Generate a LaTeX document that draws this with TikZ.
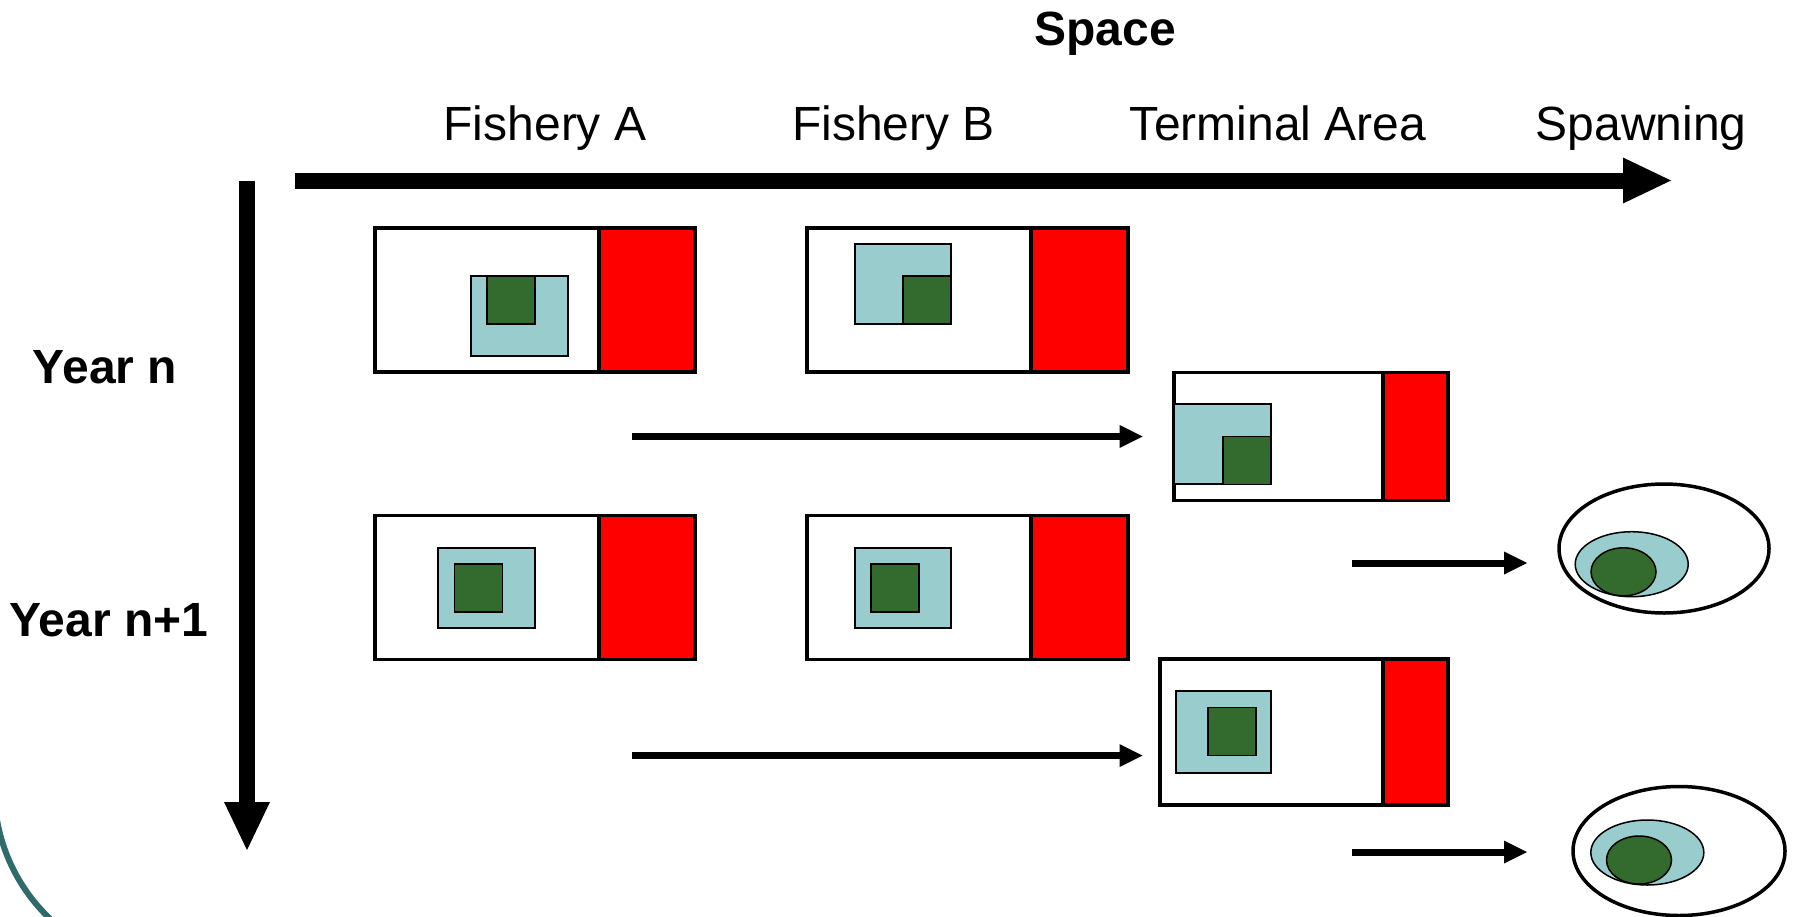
\documentclass[tikz,border=0pt]{standalone}
\usepackage{fontspec}
\setmainfont{Liberation Sans}
\usetikzlibrary{arrows.meta, positioning, shapes.geometric}
\definecolor{stockblue}{HTML}{99CCCC}
\definecolor{fishgreen}{HTML}{336B2F}
\definecolor{slideteal}{HTML}{2F6B6B}

\tikzset{
  plain text/.style={font=\fontsize{48}{57}\selectfont, anchor=base},
  bold text/.style={font=\fontsize{48}{57}\selectfont\bfseries, anchor=base},
  area box/.style={draw, line width=3.2pt, minimum height=144pt},
  catch box/.style={draw, fill=red, line width=3.2pt, minimum height=144pt},
  stock box/.style={draw, fill=stockblue, line width=1.5pt, anchor=north west},
  fish box/.style={draw, fill=fishgreen, line width=1.5pt, anchor=north west, minimum width=48pt, minimum height=48pt},
  pool/.style={ellipse, draw, line width=3.5pt},
  stock pool/.style={ellipse, draw, fill=stockblue, line width=1.5pt, minimum width=113pt, minimum height=65pt},
  fish pool/.style={ellipse, draw, fill=fishgreen, line width=1.5pt, minimum width=65pt, minimum height=48pt},
  axis arrow/.style={line width=16pt, -{Triangle[length=48pt, width=46pt, line width=0pt]}},
  move arrow/.style={line width=7pt, -{Triangle[length=23pt, width=23pt, line width=0pt]}}
}

\begin{document}
\begin{tikzpicture}[x=1pt, y=-1pt, every node/.style={inner sep=0pt, outer sep=0pt}]
  \useasboundingbox (0,0) rectangle (1795,916);

  \draw[slideteal, line width=6pt] (172.4,789.5) ++(185:178) arc[start angle=185, end angle=110, radius=178];

  \node[bold text](space) at (1105,45) {Space};
  \node[plain text](fisha) at (545,140) {Fishery A};
  \node[plain text](fishb) at (893.5,140) {Fishery B};
  \node[plain text](terminal) at (1278,140) {Terminal Area};
  \node[plain text](spawning) at (1641,140) {Spawning};
  \node[bold text](yearn) at (105,383.3) {Year n};
  \node[bold text](yearnext) at (109,636.7) {Year n+1};

  \coordinate (spacestart) at (295,180.5);
  \coordinate (spaceend) at (1671,180.5);
  \draw[axis arrow] (spacestart) -- (spaceend);
  \coordinate (timestart) at (247,180.5);
  \coordinate (timeend) at (247,850);
  \draw[axis arrow] (timestart) -- (timeend);

  % year n
  \node[area box, minimum width=224pt](areaa1) at (487,300) {};
  \node[catch box, minimum width=96pt, right=0pt of areaa1](catcha1) {};
  \node[stock box, minimum width=97pt, minimum height=80pt](stocka1) at (471,276) {};
  \node[fish box](fisha1) at (487,276) {};

  \node[area box, minimum width=224pt](areab1) at (919,300) {};
  \node[catch box, minimum width=97pt, right=0pt of areab1](catchb1) {};
  \node[stock box, minimum width=96pt, minimum height=80pt](stockb1) at (855,244) {};
  \node[fish box](fishb1) at (903,276) {};

  \node[area box, minimum width=209pt, minimum height=128pt](areat1) at (1278.5,436.5) {};
  \node[catch box, minimum width=65pt, minimum height=128pt, right=0pt of areat1](catcht1) {};
  \node[stock box, minimum width=97pt, minimum height=80pt](stockt1) at (1174,404) {};
  \node[fish box](fisht1) at (1223,436.5) {};

  % year n+1
  \node[area box, minimum width=224pt](areaa2) at (487,587.5) {};
  \node[catch box, minimum width=96pt, right=0pt of areaa2](catcha2) {};
  \node[stock box, minimum width=97pt, minimum height=80pt](stocka2) at (438,548) {};
  \node[fish box](fisha2) at (454.5,564) {};

  \node[area box, minimum width=224pt](areab2) at (919,587.5) {};
  \node[catch box, minimum width=97pt, right=0pt of areab2](catchb2) {};
  \node[stock box, minimum width=96pt, minimum height=80pt](stockb2) at (855,548) {};
  \node[fish box](fishb2) at (871,564) {};

  \node[area box, minimum width=223pt, minimum height=146pt](areat2) at (1271.5,732) {};
  \node[catch box, minimum width=65pt, minimum height=146pt, right=0pt of areat2](catcht2) {};
  \node[stock box, minimum width=95pt, minimum height=82pt](stockt2) at (1176,691) {};
  \node[fish box](fisht2) at (1208,707.5) {};

  % spawning
  \node[pool, minimum width=210pt, minimum height=129pt](pool1) at (1664,548.5) {};
  \node[stock pool](stockp1) at (1631.7,564.2) {};
  \node[fish pool](fishp1) at (1623.5,571.8) {};
  \node[pool, minimum width=212pt, minimum height=129pt](pool2) at (1679,851) {};
  \node[stock pool](stockp2) at (1647.3,852.5) {};
  \node[fish pool](fishp2) at (1639,860) {};

  \coordinate (movea1) at (632,436.5);
  \coordinate (movet1) at (1142.5,436.5);
  \draw[move arrow] (movea1) -- (movet1);
  \coordinate (movea2) at (632,755.5);
  \coordinate (movet2) at (1142.5,755.5);
  \draw[move arrow] (movea2) -- (movet2);
  \coordinate (spawnt1) at (1352,563);
  \coordinate (spawnp1) at (1527,563);
  \draw[move arrow] (spawnt1) -- (spawnp1);
  \coordinate (spawnt2) at (1352,852);
  \coordinate (spawnp2) at (1527,852);
  \draw[move arrow] (spawnt2) -- (spawnp2);
\end{tikzpicture}
\end{document}
